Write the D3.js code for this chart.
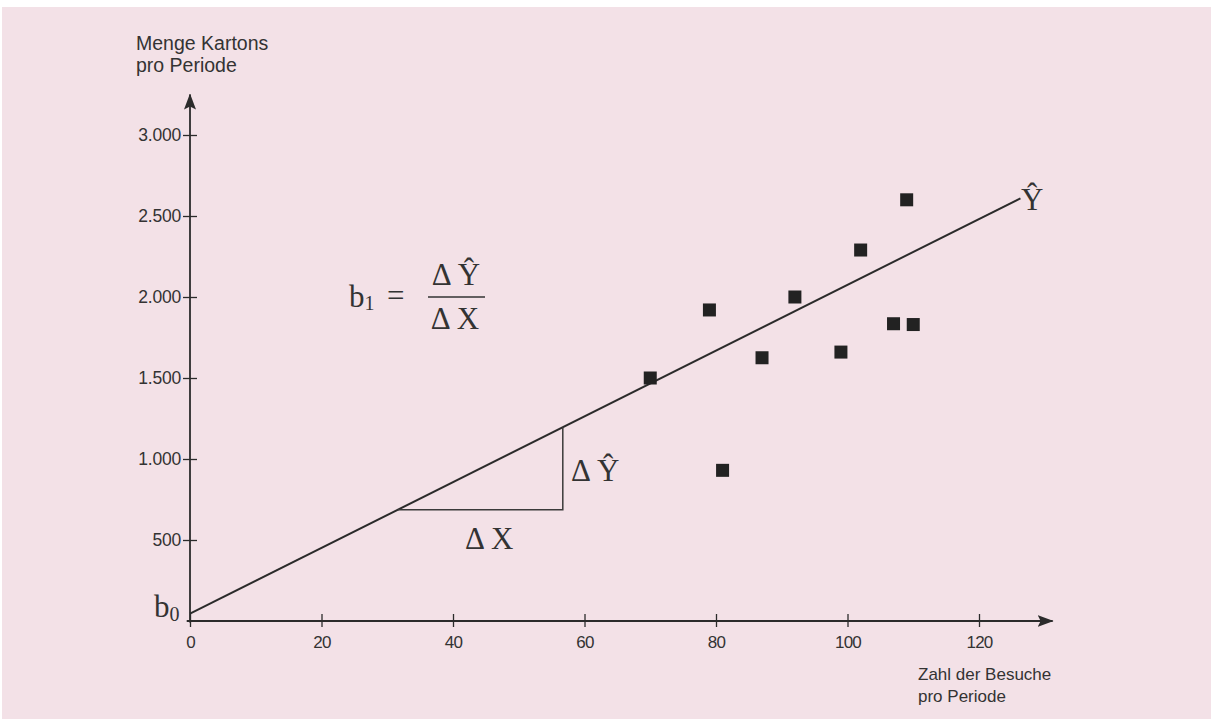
<!DOCTYPE html>
<html><head><meta charset="utf-8">
<script src="https://cdn.jsdelivr.net/npm/d3@7"></script>
<style>
html,body{margin:0;padding:0;background:#fff;}
svg{display:block;}
</style></head>
<body>
<svg id="chart" width="1211" height="719"></svg>
<script>
// ---- data ----
const visits = [70, 79, 81, 87, 92, 99, 102, 107, 109, 110];
const cartons = [1500, 1920, 930, 1625, 2000, 1660, 2290, 1835, 2600, 1830];
const xTicks = [0, 20, 40, 60, 80, 100, 120];
const yTicks = [500, 1000, 1500, 2000, 2500, 3000];
const fitLine = [{x: 0, y: 45}, {x: 126.3, y: 2609}];
const slopeTriangle = [{x: 31.6, y: 686}, {x: 56.7, y: 686}, {x: 56.7, y: 1196}];

const svg = d3.select("#chart");
const W = 1211, H = 719;
const ink = "#2b2b2b";

// background
svg.append("rect").attr("x", 0).attr("y", 0).attr("width", W).attr("height", H).attr("fill", "#ffffff");
svg.append("rect").attr("x", 2).attr("y", 7).attr("width", W - 2).attr("height", H - 7).attr("fill", "#f3e1e7");

const x = d3.scaleLinear().domain([0, 120]).range([190, 979]);
const y = d3.scaleLinear().domain([0, 3000]).range([621, 135]);

const de = d3.formatLocale({decimal: ",", thousands: ".", grouping: [3], currency: ["", "€"]});
const fmt = de.format(",d");

const sans = "'Liberation Sans', Arial, sans-serif";
const serif = "'Liberation Serif', 'Times New Roman', serif";

// arrow marker
const defs = svg.append("defs");
defs.append("marker").attr("id", "arr").attr("viewBox", "0 0 16 12")
  .attr("refX", 15).attr("refY", 6).attr("markerWidth", 16).attr("markerHeight", 12)
  .attr("markerUnits", "userSpaceOnUse").attr("orient", "auto")
  .append("path").attr("d", "M0,0 L16,6 L0,12 L3,6 Z").attr("fill", ink);

// axes
const xAxis = d3.axisBottom(x).tickValues(xTicks).tickSize(7).tickPadding(8).tickFormat(d3.format("d"));
const gx = svg.append("g").attr("transform", `translate(0,${y(0)})`).call(xAxis);
gx.select(".domain").remove();
gx.selectAll(".tick line").attr("y1", -7).attr("y2", 6).attr("stroke", ink).attr("stroke-width", 1.3);
gx.selectAll(".tick text").attr("font-family", sans).attr("font-size", 17).attr("fill", "#333")
  .attr("letter-spacing", "-0.8px").attr("dy", "0.72em");

const yAxis = d3.axisLeft(y).tickValues(yTicks).tickSize(7).tickPadding(2).tickFormat(fmt);
const gy = svg.append("g").attr("transform", `translate(${x(0)},0)`).call(yAxis);
gy.select(".domain").remove();
gy.selectAll(".tick line").attr("x1", 7).attr("x2", -7).attr("stroke", ink).attr("stroke-width", 1.3);
gy.selectAll(".tick text").attr("font-family", sans).attr("font-size", 17.5).attr("fill", "#333").attr("letter-spacing", "-0.2px");

// axis lines with arrows
svg.append("line").attr("x1", x(-0.5)).attr("x2", x(131.2)).attr("y1", y(0)).attr("y2", y(0))
  .attr("stroke", ink).attr("stroke-width", 1.8).attr("marker-end", "url(#arr)");
svg.append("line").attr("x1", x(0)).attr("x2", x(0)).attr("y1", y(-10)).attr("y2", y(3250))
  .attr("stroke", ink).attr("stroke-width", 1.8).attr("marker-end", "url(#arr)");

// regression line
const lineGen = d3.line().x(d => x(d.x)).y(d => y(d.y));
svg.append("path").datum(fitLine).attr("d", lineGen).attr("fill", "none").attr("stroke", ink).attr("stroke-width", 2);

// slope triangle
svg.append("path").datum(slopeTriangle).attr("d", lineGen).attr("fill", "none").attr("stroke", "#3a3a3a").attr("stroke-width", 1.5);

// points
const pts = visits.map((v, i) => ({x: v, y: cartons[i]}));
const s = 13;
svg.append("g").selectAll("rect").data(pts).join("rect")
  .attr("x", d => x(d.x) - s / 2).attr("y", d => y(d.y) - s / 2)
  .attr("width", s).attr("height", s).attr("fill", "#222");

// axis titles
const yt = svg.append("text").attr("font-family", sans).attr("font-size", 19.5).attr("fill", "#333");
yt.append("tspan").attr("x", 136).attr("y", 50).text("Menge Kartons");
yt.append("tspan").attr("x", 136).attr("y", 72).text("pro Periode");
const xt = svg.append("text").attr("font-family", sans).attr("font-size", 17).attr("fill", "#333");
xt.append("tspan").attr("x", 918).attr("y", 680).text("Zahl der Besuche");
xt.append("tspan").attr("x", 918).attr("y", 702).text("pro Periode");

// formula
const f = svg.append("g").attr("font-family", serif).attr("fill", "#333").attr("font-size", 31);
const b1 = f.append("text").attr("x", 349).attr("y", 307);
b1.append("tspan").text("b");
b1.append("tspan").attr("font-size", 20).attr("dy", 3).text("1");
f.append("text").attr("x", 387).attr("y", 306).text("=");
f.append("text").attr("x", 456).attr("y", 285).attr("text-anchor", "middle").text("\u0394 \u0176");
f.append("line").attr("x1", 428).attr("x2", 485).attr("y1", 297).attr("y2", 297).attr("stroke", "#333").attr("stroke-width", 1.5);
f.append("text").attr("x", 455).attr("y", 329).attr("text-anchor", "middle").text("\u0394 X");

// triangle labels
const tri = svg.append("g").attr("font-family", serif).attr("fill", "#333").attr("font-size", 31);
tri.append("text").attr("x", 571).attr("y", 481).text("\u0394 \u0176");
tri.append("text").attr("x", 465).attr("y", 549).text("\u0394 X");
const b0 = tri.append("text").attr("x", 154).attr("y", 617);
b0.append("tspan").text("b");
b0.append("tspan").attr("font-size", 20).attr("dy", 4).text("0");
tri.append("text").attr("x", 1021).attr("y", 210).text("\u0176");
</script>
</body></html>
